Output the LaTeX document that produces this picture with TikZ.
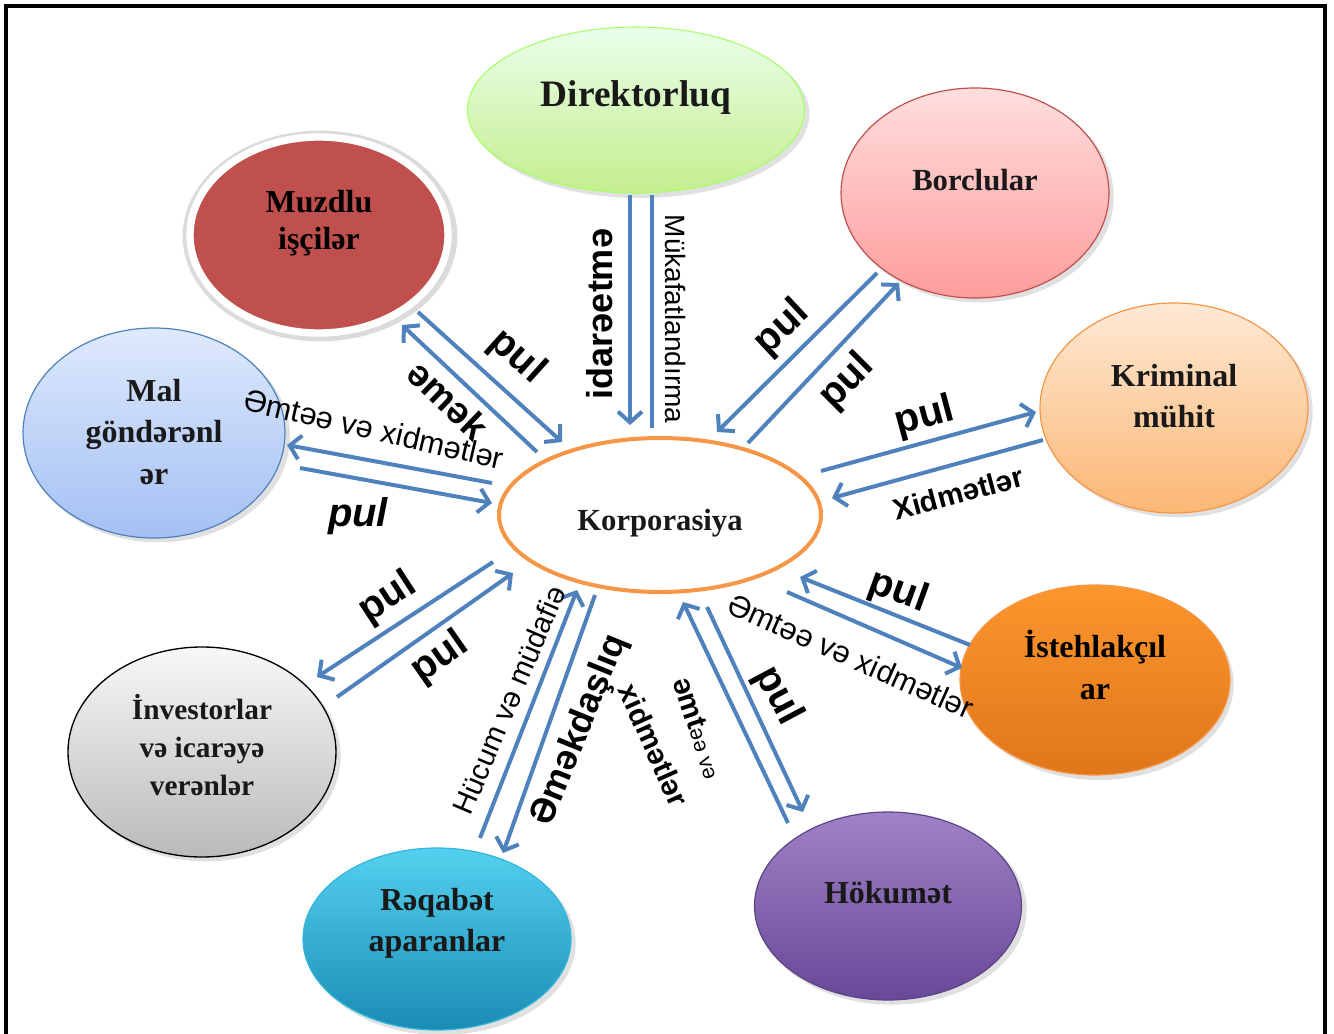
\documentclass[tikz,border=0pt]{standalone}
\usepackage{fontspec}
\setmainfont{Liberation Serif}
\setsansfont{Liberation Sans}
\usetikzlibrary{arrows.meta,shapes.geometric}
\definecolor{arrblue}{HTML}{4F81BD}
\definecolor{korpor}{HTML}{F79646}
\tikzset{
  ell/.style 2 args={ellipse, inner sep=0pt, minimum width=#1*0.75pt, minimum height=#2*0.75pt},
  ttl/.style={font=\bfseries\fontsize{24}{31}\selectfont, align=center, text=black!90},
  arr/.style={draw=arrblue, line width=3pt, -{Straight Barb[length=8pt,width=18pt,line width=3pt]}},
  plainline/.style={draw=arrblue, line width=3pt},
  pulf/.style={font=\sffamily\bfseries\fontsize{30}{30}\selectfont},
  regf/.style={font=\sffamily\fontsize{23}{23}\selectfont},
  bldf/.style={font=\sffamily\bfseries\fontsize{22}{22}\selectfont},
  shad/.style={fill=black, opacity=0.12}
}
\begin{document}
\begin{tikzpicture}[x=0.75pt,y=-0.75pt]
\useasboundingbox (0,0) rectangle (1334,1034);
\clip (0,0) rectangle (1334,1034);
\draw[line width=2.4pt] (6,6) rectangle (1325,1060);

% shadows
\fill[shad] (640,114) ellipse [x radius=127pt, y radius=63pt];
\fill[shad] (979,197) ellipse [x radius=101pt, y radius=79pt];
\fill[shad] (1178,412) ellipse [x radius=101pt, y radius=79pt];
\fill[shad] (158,437) ellipse [x radius=99pt, y radius=79pt];
\fill[shad] (1099,684) ellipse [x radius=101pt, y radius=72pt];
\fill[shad] (206,756) ellipse [x radius=101pt, y radius=79pt];
\fill[shad] (441,943) ellipse [x radius=101pt, y radius=69pt];
\fill[shad] (892,910) ellipse [x radius=101pt, y radius=71pt];
\fill[black!14] (320,236) ellipse [x radius=103pt, y radius=79pt];

% ellipses
\node[ell={337}{166}, draw=green!45!lime!60!white, line width=0.8pt, top color=green!8!white, bottom color={rgb,255:red,196;green,238;blue,142}] (dir) at (636,110) {};
\node[ell={268}{210}, draw={rgb,255:red,192;green,80;blue,77}, line width=0.9pt, top color={rgb,255:red,255;green,222;blue,222}, bottom color={rgb,255:red,255;green,156;blue,156}] (bor) at (975,193) {};
\node[ell={258}{196}, draw=white, line width=5.5pt, fill={rgb,255:red,192;green,80;blue,77}] (muz) at (319,235) {};
\node[ell={268}{210}, draw=korpor, line width=0.9pt, top color={rgb,255:red,254;green,233;blue,212}, bottom color={rgb,255:red,251;green,183;blue,116}] (krim) at (1174,408) {};
\node[ell={262}{210}, draw=arrblue, line width=0.9pt, top color={rgb,255:red,222;green,233;blue,252}, bottom color={rgb,255:red,164;green,192;blue,244}] (mal) at (154,433) {};
\node[ell={322}{154}, draw=korpor, line width=3pt, fill=white] (korp) at (660,515) {};
\node[ell={270}{190}, draw=korpor, line width=0.9pt, top color={rgb,255:red,252;green,150;blue,45}, bottom color={rgb,255:red,224;green,118;blue,26}] (ist) at (1095,680) {};
\node[ell={268}{210}, draw=black, line width=1pt, top color=black!3, bottom color=black!27] (inv) at (202,752) {};
\node[ell={268}{182}, draw={rgb,255:red,49;green,182;blue,220}, line width=0.9pt, top color={rgb,255:red,84;green,208;blue,238}, bottom color={rgb,255:red,26;green,140;blue,180}] (raq) at (437,939) {};
\node[ell={267}{188}, draw={rgb,255:red,92;green,67;blue,132}, line width=0.9pt, top color={rgb,255:red,160;green,130;blue,198}, bottom color={rgb,255:red,104;green,72;blue,152}] (hok) at (888,906) {};

% titles
\node[ttl, font=\bfseries\fontsize{28}{34}\selectfont] (dirT) at (636,98) {Direktorluq};
\node[ttl, font=\bfseries\fontsize{23}{28}\selectfont] (borT) at (975,180) {Borclular};
\node[ttl, text=black, font=\bfseries\fontsize{24}{28}\selectfont] (muzT) at (319,223) {Muzdlu\\işçilər};
\node[ttl] (krimT) at (1174,396) {Kriminal\\mühit};
\node[ttl] (malT) at (154,432) {Mal\\göndərənl\\ər};
\node[ttl, font=\bfseries\fontsize{23}{26}\selectfont] (korpT) at (660,523) {Korporasiya};
\node[ttl, text=black] (istT) at (1095,665) {İstehlakçıl\\ar};
\node[ttl, font=\bfseries\fontsize{22}{28.5}\selectfont] (invT) at (202,745) {İnvestorlar\\və icarəyə\\verənlər};
\node[ttl] (raqT) at (437,923) {Rəqabət\\aparanlar};
\node[ttl] (hokT) at (888,893) {Hökumət};

% connector end points
\coordinate (d1) at (630,195); \coordinate (d1e) at (630,425);
\coordinate (d2) at (652,195); \coordinate (d2e) at (652,428);
\coordinate (m1) at (418,312); \coordinate (m1e) at (562,442);
\coordinate (m2) at (537,452); \coordinate (m2e) at (402,325);
\coordinate (g1) at (492,483); \coordinate (g1e) at (287,445);
\coordinate (g2) at (300,468); \coordinate (g2e) at (492,503);
\coordinate (b1) at (877,273); \coordinate (b1e) at (717,432);
\coordinate (b2) at (748,443); \coordinate (b2e) at (899,283);
\coordinate (k1) at (821,471); \coordinate (k1e) at (1036,412);
\coordinate (k2) at (1043,440); \coordinate (k2e) at (832,498);
\coordinate (s1) at (970,645); \coordinate (s1e) at (800,577);
\coordinate (s2) at (787,592); \coordinate (s2e) at (962,668);
\coordinate (h1) at (788,823); \coordinate (h1e) at (683,602);
\coordinate (h2) at (707,607); \coordinate (h2e) at (803,812);
\coordinate (r1) at (480,838); \coordinate (r1e) at (577,590);
\coordinate (r2) at (595,595); \coordinate (r2e) at (503,853);
\coordinate (i1) at (493,562); \coordinate (i1e) at (317,677);
\coordinate (i2) at (337,697); \coordinate (i2e) at (513,573);

% connectors
\draw[arr] (d1) -- (d1e);
\draw[plainline] (d2) -- (d2e);
\draw[arr] (m1) -- (m1e);
\draw[arr] (m2) -- (m2e);
\draw[arr] (g1) -- (g1e);
\draw[arr] (g2) -- (g2e);
\draw[arr] (b1) -- (b1e);
\draw[arr] (b2) -- (b2e);
\draw[arr] (k1) -- (k1e);
\draw[arr] (k2) -- (k2e);
\draw[arr] (s1) -- (s1e);
\draw[arr] (s2) -- (s2e);
\draw[arr] (h1) -- (h1e);
\draw[arr] (h2) -- (h2e);
\draw[arr] (r1) -- (r1e);
\draw[arr] (r2) -- (r2e);
\draw[arr] (i1) -- (i1e);
\draw[arr] (i2) -- (i2e);

% connector labels
\node[pulf, font=\sffamily\bfseries\fontsize{27}{27}\selectfont, rotate=90] (l1) at (600,314) {idarəetmə};
\node[regf, font=\sffamily\fontsize{21}{21}\selectfont, rotate=-90] (l2) at (675,319) {Mükafatlandırma};
\node[pulf, rotate=-42] (l3) at (517,357) {pul};
\node[pulf, font=\sffamily\bfseries\fontsize{28}{28}\selectfont, rotate=-44] (l4) at (448,400) {əmək};
\node[regf, rotate=-13] (l5) at (374,429) {Əmtəə və xidmətlər};
\node[pulf, font=\sffamily\bfseries\itshape\fontsize{30}{30}\selectfont] (l6) at (358,516) {pul};
\node[pulf, rotate=43] (l7) at (782,328) {pul};
\node[pulf, rotate=45] (l8) at (847,382) {pul};
\node[pulf, rotate=15] (l9) at (925,417) {pul};
\node[bldf, rotate=15] (l10) at (958,493) {Xidmətlər};
\node[pulf, rotate=-20] (l11) at (898,592) {pul};
\node[regf, rotate=-24] (l12) at (851,656) {Əmtəə və xidmətlər};
\node[pulf, rotate=-62] (l13) at (778,696) {pul};
\node[font=\sffamily, rotate=-72] (l14) at (698,728) {{\bfseries\fontsize{22}{22}\selectfont əmt}{\fontsize{16}{16}\selectfont əə və}};
\node[bldf, rotate=-66] (l15) at (654,745) {xidmətlər};
\node[pulf, font=\sffamily\bfseries\fontsize{27}{27}\selectfont, rotate=68] (l16) at (580,730) {Əməkdaşlıq};
\node[regf, font=\sffamily\fontsize{22}{22}\selectfont, rotate=67] (l17) at (509,700) {Hücum və müdafiə};
\node[pulf, rotate=33] (l18) at (388,598) {pul};
\node[pulf, rotate=35] (l19) at (440,658) {pul};
\end{tikzpicture}
\end{document}
